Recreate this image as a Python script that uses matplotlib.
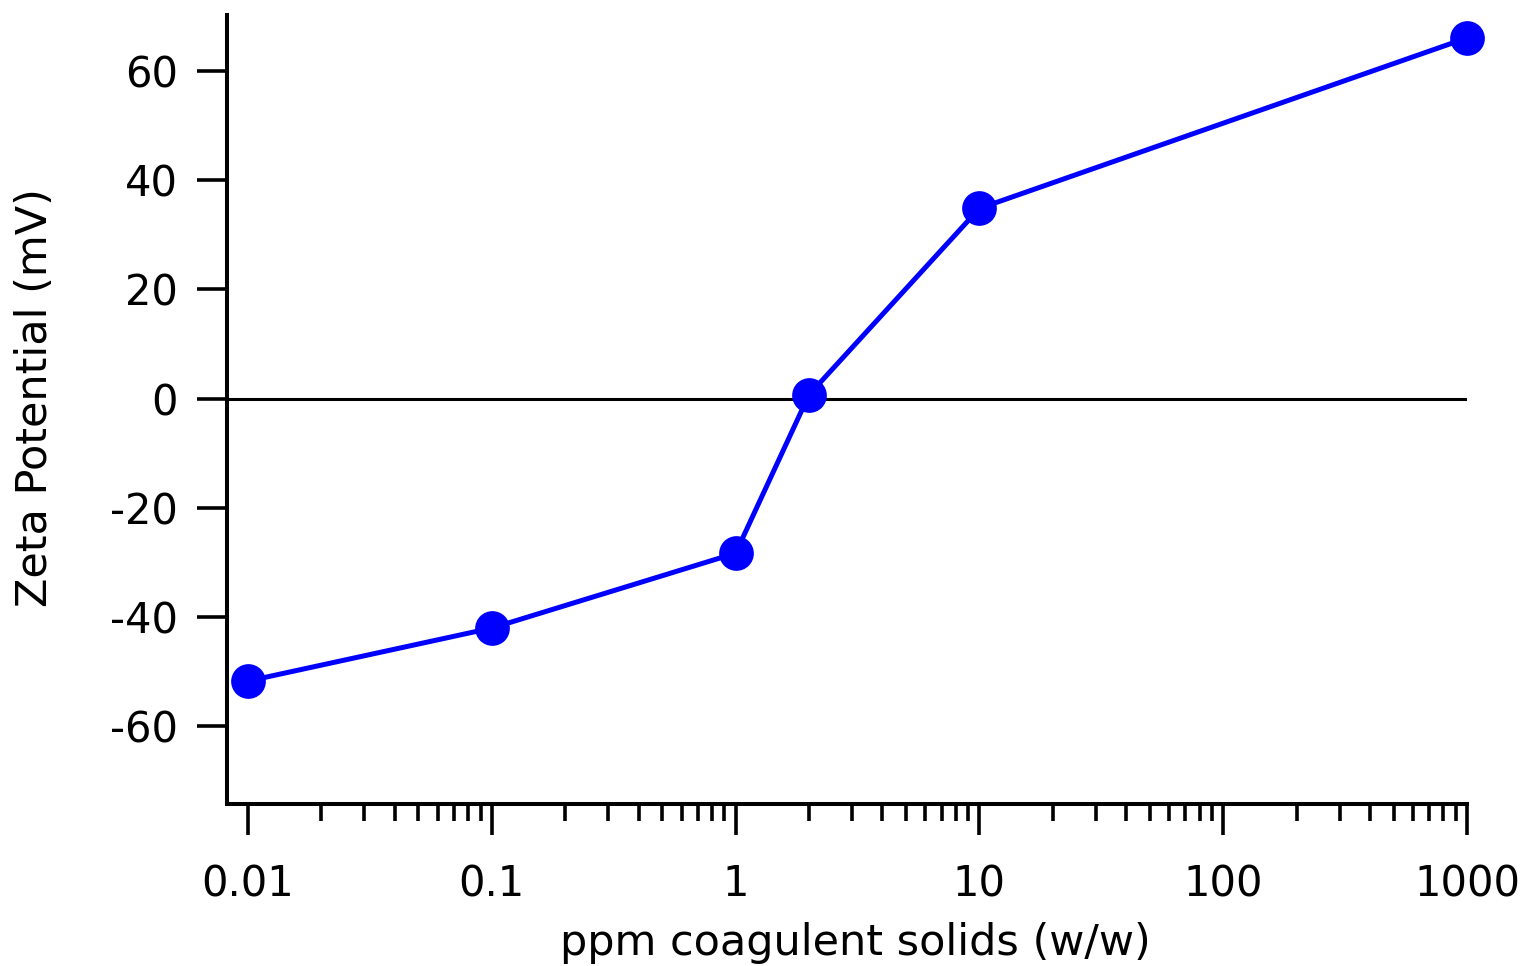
#!/usr/bin/env python3
# -*- coding: utf-8 -*-
'''
Zeta potential vs coagulant dose, log x axis, Igor-style axes.
Writes out.png.
'''

import matplotlib
matplotlib.use('Agg')
import matplotlib.pyplot as plt
from matplotlib.ticker import FixedLocator, FixedFormatter, NullFormatter

# data
ppm = [0.01, 0.1, 1, 2, 10, 1000]
zeta = [-51.7, -42.0, -28.3, 0.7, 34.8, 66.0]

xticks = [0.01, 0.1, 1, 10, 100, 1000]
xticklabels = ['0.01', '0.1', '1', '10', '100', '1000']
yticks = [-60, -40, -20, 0, 20, 40, 60]

plt.rcParams['font.family'] = ['DejaVu Sans']

fig = plt.figure(figsize=(15.23, 9.66), dpi=100)
ax = fig.add_axes([227 / 1523, 1 - 804 / 966, 1240 / 1523, 789 / 966])

ax.axhline(0, color='black', lw=2.2, zorder=1)
ax.plot(ppm, zeta, color='#0000ff', lw=3.6, marker='o', ms=25,
        markeredgewidth=0, zorder=3, clip_on=False)

ax.set_xscale('log')
ax.set_xlim(0.0082, 1000)
ax.set_ylim(-74.2, 70.2)

ax.xaxis.set_major_locator(FixedLocator(xticks))
ax.xaxis.set_major_formatter(FixedFormatter(xticklabels))
minors = [m * 10.0 ** e for e in range(-2, 3) for m in range(2, 10)]
ax.xaxis.set_minor_locator(FixedLocator(minors))
ax.xaxis.set_minor_formatter(NullFormatter())
ax.set_yticks(yticks)
ax.set_yticklabels([str(v) for v in yticks])

for side in ['top', 'right']:
    ax.spines[side].set_visible(False)
for side in ['left', 'bottom']:
    ax.spines[side].set_linewidth(2.9)

ax.tick_params(axis='x', which='major', direction='out', length=22.5,
               width=2.6, labelsize=30, pad=20)
ax.tick_params(axis='x', which='minor', direction='out', length=12,
               width=2.6)
ax.tick_params(axis='y', which='major', direction='out', length=21.5,
               width=2.6, labelsize=30, pad=14)

ax.set_xlabel('ppm coagulent solids (w/w)', fontsize=31)
ax.set_ylabel('Zeta Potential (mV)', fontsize=31)
# xlabel is anchored at its top edge, ylabel at its right edge
ax.xaxis.set_label_coords(0.507, -0.150)
ax.yaxis.set_label_coords(-0.138, 0.515)

fig.savefig('out.png', dpi=100)
plt.close()
